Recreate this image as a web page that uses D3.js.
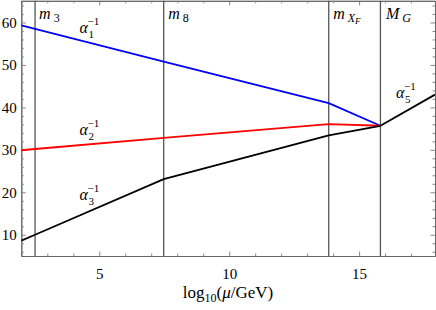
<!DOCTYPE html>
<meta charset="utf-8">
<head>
<style>
body { margin: 0; background: #fff; }
svg { display: block; }
text { font-family: "Liberation Serif", "DejaVu Serif", serif; fill: #000; }
.it { font-style: italic; }
.axis path { stroke: #666; }
.axis line { stroke: #888; }
.axis text { font-family: "Liberation Serif", serif; font-size: 15px; fill: #000; }
</style>
</head>
<body>
<script src="https://cdn.jsdelivr.net/npm/d3@7"></script>
<div id="chart"></div>
<script>

// log10(mu/GeV) at start and at each threshold
var scalePts = [2, 2.53, 7.48, 13.83, 15.82];
var alpha1 = [59.3, 58.5, 50.8, 41.0, 35.67];
var alpha2 = [29.9, 30.2, 32.8, 36.05, 35.67];
var alpha3 = [8.6, 10.0, 23.1, 33.4, 35.67];
var alpha5x = [15.82, 17.92];
var alpha5 = [35.67, 43.0];

var thresholds = [2.53, 7.48, 13.83, 15.82];
var xMajor = [5, 10, 15];
var yMajor = [10, 20, 30, 40, 50, 60];

var width = 436, height = 310;
var mLeft = 21.3, mRight = 435, mTop = 0.8, mBottom = 256;

var svg = d3.select('#chart').append('svg')
    .attr('width', width)
    .attr('height', height);

var x = d3.scaleLinear().domain([2, 17.92]).range([mLeft, mRight]);
var y = d3.scaleLinear().domain([5, 65.1]).range([mBottom, mTop]);

svg.append('clipPath').attr('id', 'clip')
  .append('rect')
    .attr('x', mLeft).attr('y', mTop)
    .attr('width', mRight - mLeft).attr('height', mBottom - mTop);

var xMinor = d3.range(2, 18).filter(function(d) { return xMajor.indexOf(d) < 0; });
var yMinor = d3.range(6, 66, 2).filter(function(d) { return yMajor.indexOf(d) < 0; });

function addAxis(axis, tx, ty) {
  return svg.append('g').attr('class', 'axis')
      .attr('transform', 'translate(' + tx + ',' + ty + ')')
      .call(axis);
}

// major + minor ticks, all four sides, pointing in
addAxis(d3.axisBottom(x).tickValues(xMajor).tickSizeInner(-4.5).tickSizeOuter(0).tickPadding(12), 0, mBottom);
addAxis(d3.axisBottom(x).tickValues(xMinor).tickSizeInner(-2.5).tickSizeOuter(0).tickFormat(''), 0, mBottom);
addAxis(d3.axisTop(x).tickValues(xMajor).tickSizeInner(-4.5).tickSizeOuter(0).tickFormat(''), 0, mTop);
addAxis(d3.axisTop(x).tickValues(xMinor).tickSizeInner(-2.5).tickSizeOuter(0).tickFormat(''), 0, mTop);
addAxis(d3.axisLeft(y).tickValues(yMajor).tickSizeInner(-4.5).tickSizeOuter(0).tickPadding(4.5), mLeft, 0);
addAxis(d3.axisLeft(y).tickValues(yMinor).tickSizeInner(-2.5).tickSizeOuter(0).tickFormat(''), mLeft, 0);
addAxis(d3.axisRight(y).tickValues(yMajor).tickSizeInner(-4.5).tickSizeOuter(0).tickFormat(''), mRight, 0);
addAxis(d3.axisRight(y).tickValues(yMinor).tickSizeInner(-2.5).tickSizeOuter(0).tickFormat(''), mRight, 0);

svg.selectAll('.axis text').style('font-size', '15px');

// threshold lines
svg.selectAll('line.thr')
    .data(thresholds)
    .enter().append('line')
    .attr('class', 'thr')
    .attr('x1', function(d) { return x(d); })
    .attr('x2', function(d) { return x(d); })
    .attr('y1', mTop)
    .attr('y2', mBottom)
    .attr('stroke', '#555')
    .attr('stroke-width', 1.3);

var line = d3.line()
    .x(function(d) { return x(d[0]); })
    .y(function(d) { return y(d[1]); });

var curves = [
  { xs: scalePts, ys: alpha1, color: '#0000ff' },
  { xs: scalePts, ys: alpha2, color: '#ff0000' },
  { xs: scalePts, ys: alpha3, color: '#000000' },
  { xs: alpha5x, ys: alpha5, color: '#000000' }
];

svg.append('g').attr('clip-path', 'url(#clip)')
  .selectAll('path')
    .data(curves)
    .enter().append('path')
    .attr('d', function(c) { return line(d3.zip(c.xs, c.ys)); })
    .attr('fill', 'none')
    .attr('stroke', function(c) { return c.color; })
    .attr('stroke-width', 1.8)
    .attr('stroke-linejoin', 'round');

// threshold labels
function massLabel(px, py, main, sub, subsub) {
  var t = svg.append('text').attr('x', px).attr('y', py);
  t.append('tspan').attr('class', 'it').style('font-size', '16px').text(main);
  t.append('tspan').attr('class', sub.it ? 'it' : null).style('font-size', '12px')
      .attr('dx', 3).attr('dy', 3).text(sub.t);
  if (subsub) {
    t.append('tspan').attr('class', 'it').style('font-size', '9px')
        .attr('dy', 2).text(subsub);
  }
}
massLabel(x(2.53) + 4, 18.5, 'm', { t: '3' });
massLabel(x(7.48) + 4.5, 18.5, 'm', { t: '8' });
massLabel(x(13.83) + 4.5, 18.5, 'm', { t: 'X', it: true }, 'F');
massLabel(x(15.82) + 5.5, 18.5, 'M', { t: 'G', it: true });

// coupling labels
function alphaLabel(px, py, n) {
  svg.append('text').attr('class', 'it').attr('x', px).attr('y', py)
      .style('font-size', '16px').text('\u03b1');
  svg.append('text').attr('x', px + 9).attr('y', py + 4.5)
      .style('font-size', '11px').text(n);
  svg.append('text').attr('x', px + 8).attr('y', py - 8)
      .style('font-size', '11px').text('\u22121');
}
alphaLabel(79.5, 33, '1');
alphaLabel(79.5, 135, '2');
alphaLabel(79.5, 200, '3');
alphaLabel(396, 98, '5');

// x axis title
var title = svg.append('text')
    .attr('x', 228).attr('y', 298)
    .attr('text-anchor', 'middle')
    .style('font-size', '17px');
title.append('tspan').text('log');
title.append('tspan').style('font-size', '12px').attr('dy', 4).text('10');
title.append('tspan').attr('dy', -4).text('(');
title.append('tspan').attr('class', 'it').text('\u03bc');
title.append('tspan').text('/GeV)');

</script>
</body>
